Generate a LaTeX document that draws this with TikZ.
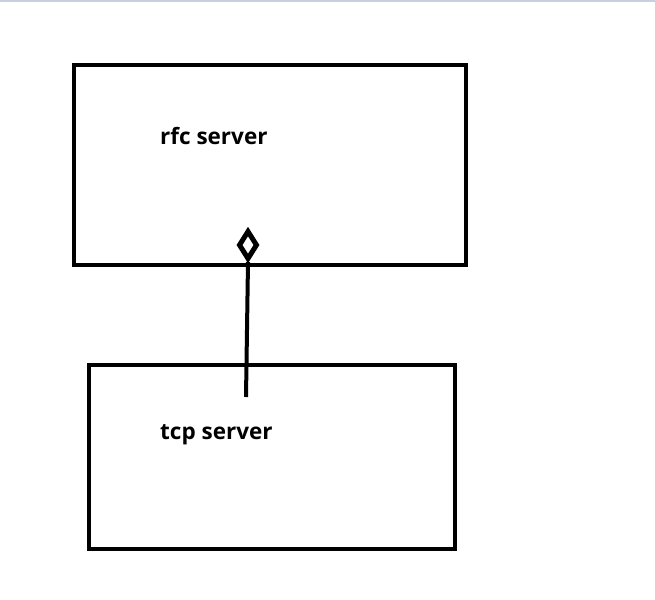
\documentclass[tikz,border=0pt]{standalone}
\usepackage{fontspec}
\setmainfont{Open Sans}
\usetikzlibrary{shapes.geometric}
\definecolor{topline}{RGB}{200,208,224}
\tikzset{
  box/.style={draw=black, line width=4pt, fill=none},
  label/.style={font=\bfseries\fontsize{22.5}{26}\selectfont, anchor=base west, inner sep=0pt},
  agg/.style={draw=black, line width=5pt, fill=white, diamond, minimum width=19pt, minimum height=29pt, inner sep=0pt, aspect=0.7},
  conn/.style={draw=black, line width=4pt}
}
\begin{document}
\begin{tikzpicture}[x=1pt,y=1pt]
\useasboundingbox (0,0) rectangle (655,-599);
\fill[topline] (0,0) rectangle (655,-2);
\draw[box] (74,-65) rectangle (466,-265);
\draw[box] (89,-365) rectangle (455,-549);
\node[label] (rfc) at (160,-144) {rfc server};
\node[label] (tcp) at (160,-439) {tcp server};
\coordinate (tcpend) at (246,-397);
\node[agg] (dia) at (248,-245) {};
\draw[conn] (tcpend) -- (dia.south);
\end{tikzpicture}
\end{document}
